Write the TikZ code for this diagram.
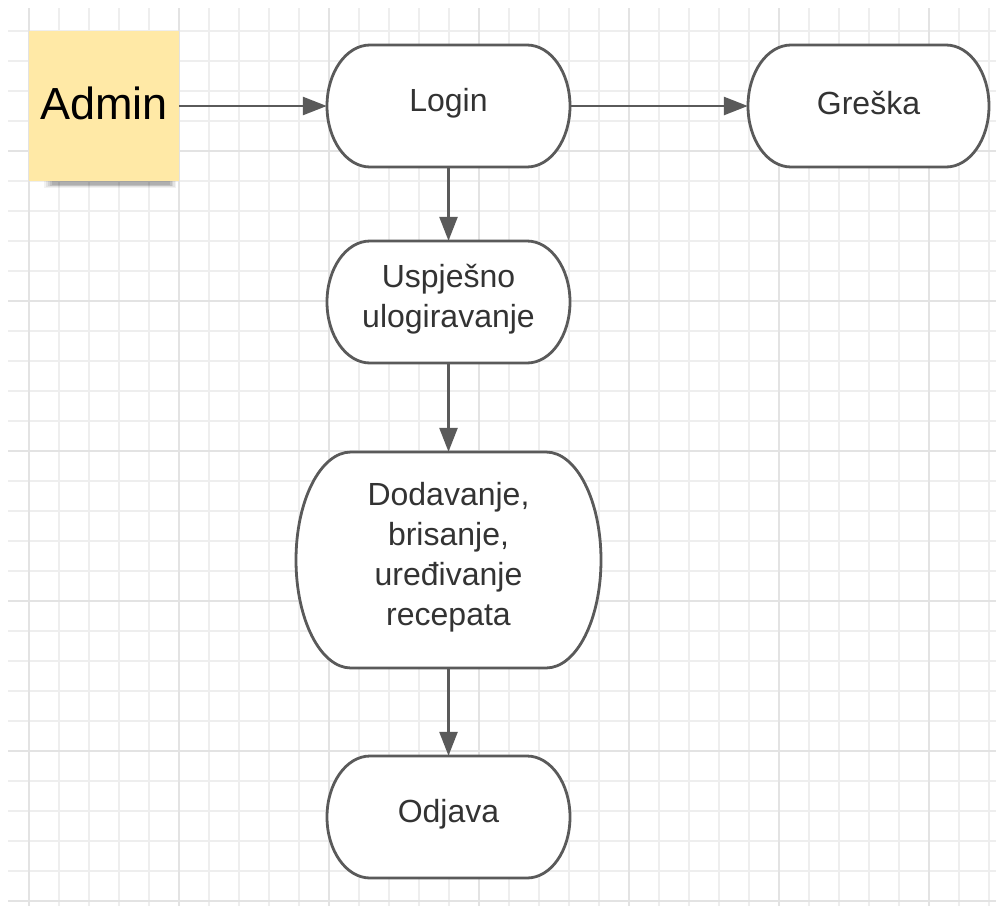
\documentclass[tikz,border=0pt]{standalone}
\usepackage{fontspec}
\setmainfont{Liberation Sans}
\usetikzlibrary{arrows.meta}
\definecolor{gridminor}{HTML}{EEEEEE}
\definecolor{gridmajor}{HTML}{E3E3E3}
\definecolor{linegray}{HTML}{5A5A5A}
\definecolor{textgray}{HTML}{333333}
\definecolor{notey}{HTML}{FFE9A6}
\tikzset{
  termline/.style={draw=linegray, line width=2.8pt, fill=white},
  termtext/.style={inner sep=0pt, align=center, text=textgray,
    font=\fontsize{32}{40}\selectfont},
  termanchor/.style={inner sep=0pt, draw=none},
  flow/.style={draw=linegray, line width=2.6pt,
    -{Triangle[length=24pt,width=18pt]}},
  notebox/.style={fill=notey, minimum width=150pt, minimum height=150pt,
    inner sep=0pt, text=black}
}
\newcommand\termbox[7]{%
  \pgfmathsetmacro\tL{#2-#4/2}%
  \pgfmathsetmacro\tR{#2+#4/2}%
  \pgfmathsetmacro\tT{#3-#5/2}%
  \pgfmathsetmacro\tB{#3+#5/2}%
  \pgfmathsetmacro\tLi{\tL+#6}%
  \pgfmathsetmacro\tRi{\tR-#6}%
  \pgfmathsetmacro\kx{0.5523*#6}%
  \pgfmathsetmacro\ky{0.5523*#5/2}%
  \draw[termline] (\tLi,\tT) -- (\tRi,\tT)
    .. controls (\tRi+\kx,\tT) and (\tR,#3-\ky) .. (\tR,#3)
    .. controls (\tR,#3+\ky) and (\tRi+\kx,\tB) .. (\tRi,\tB)
    -- (\tLi,\tB)
    .. controls (\tLi-\kx,\tB) and (\tL,#3+\ky) .. (\tL,#3)
    .. controls (\tL,#3-\ky) and (\tLi-\kx,\tT) .. cycle;
  \node[termanchor, minimum width=#4, minimum height=#5,
    label={[termtext, yshift=3pt]center:{#7}}] (#1) at (#2,#3) {};
}
\begin{document}
\begin{tikzpicture}[x=1pt,y=-1pt]
\useasboundingbox (0,0) rectangle (996,906);
\fill[white] (0,0) rectangle (996,906);
% grid
\foreach \gx in {29,59,...,996} {
  \draw[gridminor, line width=1.2pt] (\gx,8) -- (\gx,906);
}
\foreach \gy in {31,61,...,906} {
  \draw[gridminor, line width=1.2pt] (8,\gy) -- (996,\gy);
}
\foreach \gx in {29,179,...,996} {
  \draw[gridmajor, line width=1.4pt] (\gx,8) -- (\gx,906);
}
\foreach \gy in {151,301,...,906} {
  \draw[gridmajor, line width=1.4pt] (8,\gy) -- (996,\gy);
}
% sticky note shadow
\foreach \o/\a in {0/0.05,1/0.06,2/0.07,3/0.08,4/0.09} {
  \fill[black, opacity=\a] (44+\o*2,176+\o*0.8) rectangle (176-\o*1.5,188-\o*0.8);
}
\node[notebox, label={[font=\fontsize{45}{50}\selectfont, text=black, yshift=3pt]center:Admin}] (admin) at (104,106) {};
% terminator boxes
\termbox{login}{448.5}{106}{243}{122}{43}{Login}
\termbox{greska}{868.5}{106}{241}{122}{43}{Greška}
\termbox{uspjeh}{448.5}{302}{243}{122}{43}{Uspješno\\ulogiravanje}
\termbox{uredi}{448.5}{560}{305}{216}{55}{Dodavanje,\\brisanje,\\uređivanje\\recepata}
\termbox{odjava}{448.5}{817}{243}{122}{43}{Odjava}
% connectors
\draw[flow] (admin.east) -- (login.west);
\draw[flow] (login.east) -- (greska.west);
\draw[flow] (login.south) -- (uspjeh.north);
\draw[flow] (uspjeh.south) -- (uredi.north);
\draw[flow] (uredi.south) -- (odjava.north);
\end{tikzpicture}
\end{document}
